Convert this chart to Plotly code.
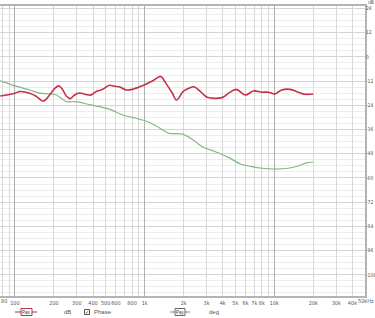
import numpy as np
import plotly.graph_objects as go

# ---- data ----
spl_freq = [77, 100, 109, 130, 147, 165, 185, 203, 219, 234, 249, 267, 288, 315, 354, 387, 423, 475,
            535, 584, 638, 718, 806, 962, 1147, 1331, 1454, 1633, 1759, 1949, 2008, 2193, 2395, 2696,
            3029, 3947, 4442, 5087, 5965, 6904, 7993, 8995, 10120, 11370, 13190, 15280, 17190, 19900]
spl_db = [-19.4, -18.0, -17.2, -18.0, -19.7, -21.9, -18.9, -15.6, -14.4, -16.4, -19.4, -20.7, -18.9,
          -17.9, -18.7, -18.9, -17.2, -16.1, -14.1, -14.6, -14.8, -16.4, -16.1, -14.3, -12.0, -9.7,
          -13.0, -17.9, -21.4, -17.7, -16.9, -15.6, -14.8, -17.2, -20.0, -20.2, -18.0, -16.1, -18.9,
          -16.9, -17.5, -17.5, -18.4, -16.4, -16.1, -17.5, -18.5, -18.4]

ph_freq = [77, 100, 130, 155, 191, 209, 249, 297, 365, 448, 551, 676, 856, 1021, 1218, 1541, 1949,
           2325, 2773, 3513, 4442, 5460, 6699, 7993, 10120, 12800, 15280, 17680, 19900]
ph_val = [-11.9, -14.4, -16.4, -18.0, -18.4, -18.9, -22.2, -22.2, -23.5, -24.7, -26.3, -28.8, -30.4,
          -31.8, -34.1, -37.9, -38.2, -40.8, -44.5, -47.0, -49.8, -53.1, -54.4, -55.2, -55.6, -55.2,
          -54.1, -52.5, -52.1]

grid_freqs = [80, 90, 100, 200, 300, 400, 500, 600, 700, 800, 900, 1000, 2000, 3000, 4000, 5000,
              6000, 7000, 8000, 9000, 10000, 20000, 30000, 40000, 50000]
grid_labels = ["", "", "100", "200", "300", "400", "500", "600", "", "800", "", "1k", "2k", "3k",
               "4k", "5k", "6k", "7k", "8k", "", "10k", "20k", "30k", "40k", ""]
start_label = "80"
end_label = "50kHz"
decade_freqs = [100, 1000, 10000]
y_ticks = [24, 12, 0, -12, -24, -36, -48, -60, -72, -84, -96, -108]
y_labels = ["24", "12", "0", "-12", "-24", "-36", "-48", "-60", "-72", "-84", "-96", "-108"]

W, H = 375, 318
L, R, T, B = 0, 10, 6, 22
pw, ph = W - L - R, H - T - B

def px(x):
    return (x - L) / pw

def py(y):
    return (H - B - y) / ph

RED = "#c2304a"
GREEN = "#82b882"
FONT = dict(family="Liberation Sans, Arial, sans-serif", size=6, color="#555555")
NARROW = dict(family="Liberation Sans Narrow, DejaVu Sans Condensed, Liberation Sans, sans-serif", size=5, color="#555555")
XFONT = dict(family=NARROW["family"], size=5.5, color="#555555")

fig = go.Figure()
fig.add_trace(go.Scatter(x=ph_freq, y=ph_val, mode="lines", line=dict(color=GREEN, width=1.2, shape="spline", smoothing=0.6),
                         hoverinfo="skip", showlegend=False))
fig.add_trace(go.Scatter(x=spl_freq, y=spl_db, mode="lines", line=dict(color=RED, width=1.6, shape="spline", smoothing=1.0),
                         hoverinfo="skip", showlegend=False))
# invisible trace for the decade-grid overlay axis
fig.add_trace(go.Scatter(x=[100], y=[0], xaxis="x2", mode="markers", marker=dict(opacity=0),
                         hoverinfo="skip", showlegend=False))

xr = [np.log10(76.7), np.log10(50000) + 1e-4]
fig.update_layout(
    width=W, height=H, margin=dict(l=L, r=R, t=T, b=B, autoexpand=False),
    paper_bgcolor="white", plot_bgcolor="white",
    font=FONT,
    xaxis=dict(type="log", range=xr, tickvals=grid_freqs, ticktext=grid_labels, automargin=False,
               showgrid=True, gridcolor="#d8d8d8", gridwidth=1, ticks="", tickfont=XFONT, tickangle=0,
               showline=True, linecolor="#b4b4b4", linewidth=2, mirror=True, zeroline=False,
               ticklabelstandoff=0),
    xaxis2=dict(type="log", range=xr, overlaying="x", tickvals=decade_freqs, showticklabels=False,
                showgrid=True, gridcolor="#b0b0b0", gridwidth=1.2, ticks="", zeroline=False, automargin=False),
    yaxis=dict(range=[-118.5, 25.2], side="right", tickvals=y_ticks, ticktext=y_labels, automargin=False,
               showgrid=True, gridcolor="#d4d4d4", gridwidth=1, ticks="", tickfont=NARROW,
               minor=dict(dtick=3, tick0=0, showgrid=True, gridcolor="#ededed", gridwidth=1),
               showline=True, linecolor="#b4b4b4", linewidth=2, zeroline=False, ticklabelstandoff=-2),
)

# header unit on right axis
fig.add_annotation(x=px(366), y=py(2), xref="paper", yref="paper", text="dB", showarrow=False,
                   font=dict(family=NARROW["family"], size=5, color="#555555"), xanchor="left", yanchor="middle")
# first and last frequency labels, kept inside the page
fig.add_annotation(x=px(0), y=py(301), xref="paper", yref="paper", text=start_label, showarrow=False,
                   font=XFONT, xanchor="left", yanchor="middle", borderpad=0)
fig.add_annotation(x=px(375), y=py(301), xref="paper", yref="paper", text=end_label, showarrow=False,
                   font=XFONT, xanchor="right", yanchor="middle", borderpad=0)

# legend row
ly = py(312)
def legend_item(x0, x1, bx0, bx1, color, boxcolor, label):
    fig.add_shape(type="line", xref="paper", yref="paper", x0=px(x0), x1=px(x1), y0=ly, y1=ly,
                  line=dict(color=color, width=1))
    fig.add_shape(type="rect", xref="paper", yref="paper", x0=px(bx0), x1=px(bx1), y0=py(315.5), y1=py(308.5),
                  line=dict(color=boxcolor, width=1), fillcolor="white")
    fig.add_annotation(x=px((bx0 + bx1) / 2), y=ly, xref="paper", yref="paper", text=label, showarrow=False,
                       font=dict(family=FONT["family"], size=4.5, color="#333333"), xanchor="center", yanchor="middle")

legend_item(15, 37, 21, 32, "#555555", RED, "Pax")
legend_item(170, 190, 175, 185, "#888888", "#666666", "Pay")
fig.add_annotation(x=px(67), y=ly, xref="paper", yref="paper", text="dB", showarrow=False, font=FONT,
                   xanchor="center", yanchor="middle")
fig.add_shape(type="rect", xref="paper", yref="paper", x0=px(84.5), x1=px(89.5), y0=py(314.5), y1=py(309.5),
              line=dict(color="#555555", width=1), fillcolor="white")
fig.add_annotation(x=px(87), y=ly, xref="paper", yref="paper", text="✓", showarrow=False,
                   font=dict(family="DejaVu Sans", size=5, color="#333333"), xanchor="center", yanchor="middle")
fig.add_annotation(x=px(92), y=ly, xref="paper", yref="paper", text="Phase", showarrow=False, font=FONT,
                   xanchor="left", yanchor="middle")
fig.add_annotation(x=px(214), y=ly, xref="paper", yref="paper", text="deg", showarrow=False, font=FONT,
                   xanchor="center", yanchor="middle")

fig.write_html("out.html")
